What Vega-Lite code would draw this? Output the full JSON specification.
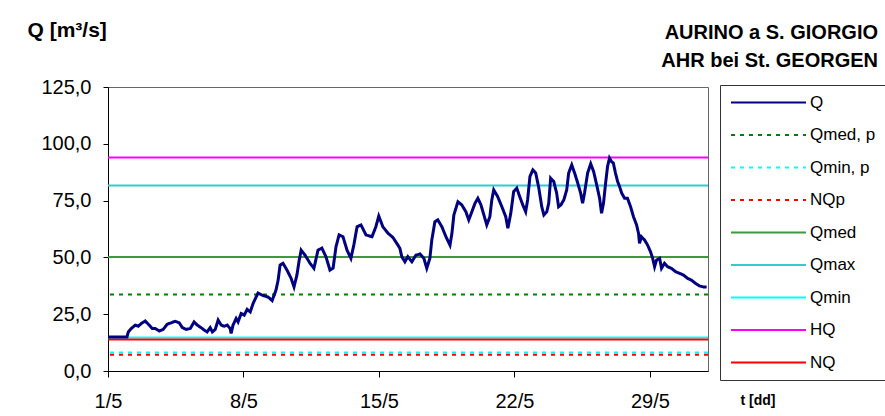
{
  "$schema": "https://vega.github.io/schema/vega-lite/v6.json",
  "width": 600,
  "height": 284,
  "autosize": {"type": "none"},
  "padding": {"left": 108, "top": 87, "right": 177, "bottom": 45},
  "background": "white",
  "config": {
    "view": {"stroke": "#666666", "strokeWidth": 1},
    "font": "Liberation Sans"
  },
  "title": {
    "text": ["AURINO a S. GIORGIO", "AHR bei St. GEORGEN"],
    "anchor": "end",
    "frame": "group",
    "dx": 170,
    "offset": -68,
    "baseline": "alphabetic",
    "lineHeight": 28.3,
    "font": "Liberation Sans",
    "fontSize": 20,
    "fontWeight": "bold",
    "color": "black"
  },
  "datasets": {
    "ref": [
      {"series": "Qmed, p", "value": 33.7},
      {"series": "Qmin, p", "value": 8.1},
      {"series": "NQp", "value": 7.2},
      {"series": "Qmed", "value": 50.2},
      {"series": "Qmax", "value": 81.6},
      {"series": "Qmin", "value": 14.7},
      {"series": "HQ", "value": 94.0},
      {"series": "NQ", "value": 13.9}
    ],
    "q": [
      {"series": "Q", "day": 0, "value": 15.0},
      {"series": "Q", "day": 0.98, "value": 15.0},
      {"series": "Q", "day": 1.05, "value": 17.2},
      {"series": "Q", "day": 1.20, "value": 18.7},
      {"series": "Q", "day": 1.41, "value": 20.2},
      {"series": "Q", "day": 1.56, "value": 19.7},
      {"series": "Q", "day": 1.72, "value": 20.9},
      {"series": "Q", "day": 1.92, "value": 22.0},
      {"series": "Q", "day": 2.13, "value": 20.2},
      {"series": "Q", "day": 2.29, "value": 18.7},
      {"series": "Q", "day": 2.44, "value": 18.7},
      {"series": "Q", "day": 2.65, "value": 17.6},
      {"series": "Q", "day": 2.85, "value": 18.3},
      {"series": "Q", "day": 3.06, "value": 20.6},
      {"series": "Q", "day": 3.26, "value": 21.2},
      {"series": "Q", "day": 3.47, "value": 21.9},
      {"series": "Q", "day": 3.68, "value": 21.2},
      {"series": "Q", "day": 3.84, "value": 19.1},
      {"series": "Q", "day": 4.04, "value": 18.3},
      {"series": "Q", "day": 4.25, "value": 18.7},
      {"series": "Q", "day": 4.45, "value": 21.6},
      {"series": "Q", "day": 4.61, "value": 20.2},
      {"series": "Q", "day": 4.81, "value": 19.1},
      {"series": "Q", "day": 4.97, "value": 18.0},
      {"series": "Q", "day": 5.12, "value": 17.2},
      {"series": "Q", "day": 5.28, "value": 19.1},
      {"series": "Q", "day": 5.39, "value": 17.2},
      {"series": "Q", "day": 5.54, "value": 18.3},
      {"series": "Q", "day": 5.69, "value": 22.4},
      {"series": "Q", "day": 5.85, "value": 20.2},
      {"series": "Q", "day": 6.00, "value": 19.7},
      {"series": "Q", "day": 6.16, "value": 20.2},
      {"series": "Q", "day": 6.31, "value": 18.7},
      {"series": "Q", "day": 6.36, "value": 16.5},
      {"series": "Q", "day": 6.46, "value": 20.2},
      {"series": "Q", "day": 6.62, "value": 23.1},
      {"series": "Q", "day": 6.72, "value": 21.6},
      {"series": "Q", "day": 6.88, "value": 25.3},
      {"series": "Q", "day": 7.04, "value": 24.6},
      {"series": "Q", "day": 7.19, "value": 27.1},
      {"series": "Q", "day": 7.35, "value": 26.0},
      {"series": "Q", "day": 7.50, "value": 29.8},
      {"series": "Q", "day": 7.75, "value": 34.3},
      {"series": "Q", "day": 7.96, "value": 33.4},
      {"series": "Q", "day": 8.28, "value": 32.5},
      {"series": "Q", "day": 8.48, "value": 31.0},
      {"series": "Q", "day": 8.68, "value": 35.6},
      {"series": "Q", "day": 8.79, "value": 40.0},
      {"series": "Q", "day": 8.89, "value": 46.6},
      {"series": "Q", "day": 9.04, "value": 47.4},
      {"series": "Q", "day": 9.25, "value": 44.4},
      {"series": "Q", "day": 9.46, "value": 40.8},
      {"series": "Q", "day": 9.61, "value": 37.0},
      {"series": "Q", "day": 9.76, "value": 42.2},
      {"series": "Q", "day": 9.88, "value": 48.8},
      {"series": "Q", "day": 9.98, "value": 53.2},
      {"series": "Q", "day": 10.18, "value": 51.0},
      {"series": "Q", "day": 10.44, "value": 47.4},
      {"series": "Q", "day": 10.64, "value": 45.2},
      {"series": "Q", "day": 10.85, "value": 53.2},
      {"series": "Q", "day": 11.05, "value": 54.1},
      {"series": "Q", "day": 11.26, "value": 50.3},
      {"series": "Q", "day": 11.47, "value": 44.4},
      {"series": "Q", "day": 11.63, "value": 45.3},
      {"series": "Q", "day": 11.78, "value": 54.7},
      {"series": "Q", "day": 11.94, "value": 59.9},
      {"series": "Q", "day": 12.14, "value": 59.1},
      {"series": "Q", "day": 12.35, "value": 53.2},
      {"series": "Q", "day": 12.55, "value": 49.6},
      {"series": "Q", "day": 12.70, "value": 55.4},
      {"series": "Q", "day": 12.87, "value": 63.5},
      {"series": "Q", "day": 13.07, "value": 64.3},
      {"series": "Q", "day": 13.33, "value": 59.9},
      {"series": "Q", "day": 13.64, "value": 59.1},
      {"series": "Q", "day": 13.84, "value": 63.5},
      {"series": "Q", "day": 13.99, "value": 68.2},
      {"series": "Q", "day": 14.20, "value": 63.5},
      {"series": "Q", "day": 14.47, "value": 60.6},
      {"series": "Q", "day": 14.72, "value": 58.8},
      {"series": "Q", "day": 14.98, "value": 55.4},
      {"series": "Q", "day": 15.08, "value": 54.0},
      {"series": "Q", "day": 15.18, "value": 50.3},
      {"series": "Q", "day": 15.34, "value": 48.1},
      {"series": "Q", "day": 15.49, "value": 50.3},
      {"series": "Q", "day": 15.70, "value": 48.1},
      {"series": "Q", "day": 15.91, "value": 51.0},
      {"series": "Q", "day": 16.12, "value": 51.5},
      {"series": "Q", "day": 16.32, "value": 49.6},
      {"series": "Q", "day": 16.47, "value": 45.2},
      {"series": "Q", "day": 16.63, "value": 49.6},
      {"series": "Q", "day": 16.73, "value": 57.7},
      {"series": "Q", "day": 16.89, "value": 65.7},
      {"series": "Q", "day": 17.04, "value": 66.5},
      {"series": "Q", "day": 17.25, "value": 63.5},
      {"series": "Q", "day": 17.46, "value": 59.1},
      {"series": "Q", "day": 17.67, "value": 55.4},
      {"series": "Q", "day": 17.77, "value": 60.6},
      {"series": "Q", "day": 17.87, "value": 68.7},
      {"series": "Q", "day": 18.08, "value": 74.5},
      {"series": "Q", "day": 18.28, "value": 73.1},
      {"series": "Q", "day": 18.49, "value": 70.1},
      {"series": "Q", "day": 18.64, "value": 66.5},
      {"series": "Q", "day": 18.80, "value": 70.1},
      {"series": "Q", "day": 18.96, "value": 73.8},
      {"series": "Q", "day": 19.11, "value": 76.0},
      {"series": "Q", "day": 19.27, "value": 73.1},
      {"series": "Q", "day": 19.42, "value": 68.7},
      {"series": "Q", "day": 19.57, "value": 64.3},
      {"series": "Q", "day": 19.73, "value": 67.9},
      {"series": "Q", "day": 19.83, "value": 75.3},
      {"series": "Q", "day": 19.93, "value": 79.7},
      {"series": "Q", "day": 20.13, "value": 76.8},
      {"series": "Q", "day": 20.35, "value": 72.3},
      {"series": "Q", "day": 20.55, "value": 67.9},
      {"series": "Q", "day": 20.66, "value": 62.8},
      {"series": "Q", "day": 20.81, "value": 69.4},
      {"series": "Q", "day": 20.96, "value": 79.0},
      {"series": "Q", "day": 21.12, "value": 80.5},
      {"series": "Q", "day": 21.27, "value": 76.8},
      {"series": "Q", "day": 21.43, "value": 73.1},
      {"series": "Q", "day": 21.58, "value": 70.1},
      {"series": "Q", "day": 21.68, "value": 75.3},
      {"series": "Q", "day": 21.80, "value": 85.6},
      {"series": "Q", "day": 21.95, "value": 88.5},
      {"series": "Q", "day": 22.10, "value": 87.1},
      {"series": "Q", "day": 22.26, "value": 80.5},
      {"series": "Q", "day": 22.41, "value": 72.3},
      {"series": "Q", "day": 22.52, "value": 68.7},
      {"series": "Q", "day": 22.67, "value": 70.1},
      {"series": "Q", "day": 22.77, "value": 73.8},
      {"series": "Q", "day": 22.87, "value": 84.9},
      {"series": "Q", "day": 23.03, "value": 83.4},
      {"series": "Q", "day": 23.18, "value": 78.3},
      {"series": "Q", "day": 23.28, "value": 72.3},
      {"series": "Q", "day": 23.40, "value": 73.1},
      {"series": "Q", "day": 23.55, "value": 75.3},
      {"series": "Q", "day": 23.70, "value": 79.7},
      {"series": "Q", "day": 23.80, "value": 87.1},
      {"series": "Q", "day": 23.96, "value": 90.7},
      {"series": "Q", "day": 24.11, "value": 87.1},
      {"series": "Q", "day": 24.27, "value": 82.7},
      {"series": "Q", "day": 24.42, "value": 78.3},
      {"series": "Q", "day": 24.52, "value": 73.8},
      {"series": "Q", "day": 24.62, "value": 78.3},
      {"series": "Q", "day": 24.78, "value": 87.1},
      {"series": "Q", "day": 24.94, "value": 91.2},
      {"series": "Q", "day": 25.09, "value": 87.8},
      {"series": "Q", "day": 25.25, "value": 81.9},
      {"series": "Q", "day": 25.40, "value": 76.0},
      {"series": "Q", "day": 25.50, "value": 69.4},
      {"series": "Q", "day": 25.60, "value": 73.8},
      {"series": "Q", "day": 25.71, "value": 82.7},
      {"series": "Q", "day": 25.81, "value": 90.0},
      {"series": "Q", "day": 25.91, "value": 93.7},
      {"series": "Q", "day": 26.01, "value": 92.2},
      {"series": "Q", "day": 26.11, "value": 91.5},
      {"series": "Q", "day": 26.22, "value": 87.1},
      {"series": "Q", "day": 26.33, "value": 83.4},
      {"series": "Q", "day": 26.43, "value": 81.2},
      {"series": "Q", "day": 26.54, "value": 78.3},
      {"series": "Q", "day": 26.69, "value": 76.0},
      {"series": "Q", "day": 26.84, "value": 76.0},
      {"series": "Q", "day": 27.00, "value": 72.3},
      {"series": "Q", "day": 27.15, "value": 67.9},
      {"series": "Q", "day": 27.31, "value": 64.3},
      {"series": "Q", "day": 27.41, "value": 60.6},
      {"series": "Q", "day": 27.46, "value": 56.2},
      {"series": "Q", "day": 27.56, "value": 59.1},
      {"series": "Q", "day": 27.72, "value": 57.7},
      {"series": "Q", "day": 27.88, "value": 55.4},
      {"series": "Q", "day": 28.03, "value": 52.5},
      {"series": "Q", "day": 28.14, "value": 49.6},
      {"series": "Q", "day": 28.24, "value": 45.9},
      {"series": "Q", "day": 28.34, "value": 48.8},
      {"series": "Q", "day": 28.50, "value": 49.6},
      {"series": "Q", "day": 28.60, "value": 45.2},
      {"series": "Q", "day": 28.75, "value": 47.4},
      {"series": "Q", "day": 28.91, "value": 45.9},
      {"series": "Q", "day": 29.11, "value": 45.2},
      {"series": "Q", "day": 29.33, "value": 43.7},
      {"series": "Q", "day": 29.53, "value": 43.0},
      {"series": "Q", "day": 29.74, "value": 42.2},
      {"series": "Q", "day": 29.94, "value": 40.8},
      {"series": "Q", "day": 30.14, "value": 40.0},
      {"series": "Q", "day": 30.35, "value": 38.6},
      {"series": "Q", "day": 30.55, "value": 37.5},
      {"series": "Q", "day": 30.76, "value": 37.0},
      {"series": "Q", "day": 30.93, "value": 37.0}
    ]
  },
  "encoding": {
    "y": {
      "field": "value",
      "type": "quantitative",
      "scale": {"domain": [0, 125], "nice": false, "zero": true},
      "axis": {
        "values": [0, 25, 50, 75, 100, 125],
        "labelExpr": "replace(format(datum.value, '.1f'), '.', ',')",
        "grid": false,
        "domainColor": "black",
        "tickColor": "black",
        "tickSize": 5,
        "labelPadding": 12,
        "labelFont": "Liberation Sans",
        "labelFontSize": 20,
        "labelColor": "black",
        "title": "Q [m³/s]",
        "titleAngle": 0,
        "titleAlign": "left",
        "titleBaseline": "alphabetic",
        "titleX": -81,
        "titleY": -50.5,
        "titleFont": "Liberation Sans",
        "titleFontSize": 21,
        "titleFontWeight": "bold",
        "titleColor": "black"
      }
    },
    "color": {
      "field": "series",
      "type": "nominal",
      "scale": {
        "domain": ["Q", "Qmed, p", "Qmin, p", "NQp", "Qmed", "Qmax", "Qmin", "HQ", "NQ"],
        "range": ["#000080", "#008000", "#00FFFF", "#FF0000", "#3C9A3C", "#33CCCC", "#00FFFF", "#FF00FF", "#FF0000"]
      },
      "legend": {
        "title": null,
        "orient": "none",
        "legendX": 612,
        "legendY": -2,
        "padding": 9,
        "rowPadding": 14.5,
        "strokeColor": "#333333",
        "fillColor": "white",
        "symbolType": "M-1,0H10.54",
        "symbolSize": 169,
        "symbolStrokeWidth": 2,
        "symbolOffset": 0,
        "labelOffset": 64,
        "labelFont": "Liberation Sans",
        "labelFontSize": 17,
        "labelColor": "black",
        "labelLimit": 200
      }
    },
    "strokeDash": {
      "field": "series",
      "type": "nominal",
      "scale": {
        "domain": ["Q", "Qmed, p", "Qmin, p", "NQp", "Qmed", "Qmax", "Qmin", "HQ", "NQ"],
        "range": [[1, 0], [4, 5], [4, 5], [4, 5], [1, 0], [1, 0], [1, 0], [1, 0], [1, 0]]
      },
      "legend": {
        "title": null,
        "orient": "none",
        "legendX": 612,
        "legendY": -2,
        "padding": 9,
        "rowPadding": 14.5,
        "strokeColor": "#333333",
        "fillColor": "white",
        "symbolType": "M-1,0H10.54",
        "symbolSize": 169,
        "symbolStrokeWidth": 2,
        "symbolOffset": 0,
        "labelOffset": 64,
        "labelFont": "Liberation Sans",
        "labelFontSize": 17,
        "labelColor": "black",
        "labelLimit": 200
      }
    }
  },
  "layer": [
    {
      "data": {"name": "ref"},
      "mark": {"type": "rule", "strokeWidth": 2},
      "encoding": {}
    },
    {
      "data": {"name": "q"},
      "mark": {"type": "line", "strokeWidth": 3, "interpolate": "linear"},
      "encoding": {
        "x": {
          "field": "day",
          "type": "quantitative",
          "scale": {"domain": [0, 31], "nice": false, "zero": false},
          "axis": {
            "values": [0, 7, 14, 21, 28],
            "labelExpr": "(datum.value + 1) + '/5'",
            "grid": false,
            "domainColor": "black",
            "tickColor": "black",
            "tickSize": 6,
            "labelPadding": 14,
            "labelFont": "Liberation Sans",
            "labelFontSize": 20,
            "labelColor": "black",
            "labelFlush": false,
            "title": "t [dd]",
            "titleAlign": "left",
            "titleBaseline": "alphabetic",
            "titleAnchor": "start",
            "titleX": 632,
            "titleY": 33,
            "titleFont": "Liberation Sans",
            "titleFontSize": 14,
            "titleFontWeight": "bold",
            "titleColor": "black"
          }
        }
      }
    }
  ]
}
